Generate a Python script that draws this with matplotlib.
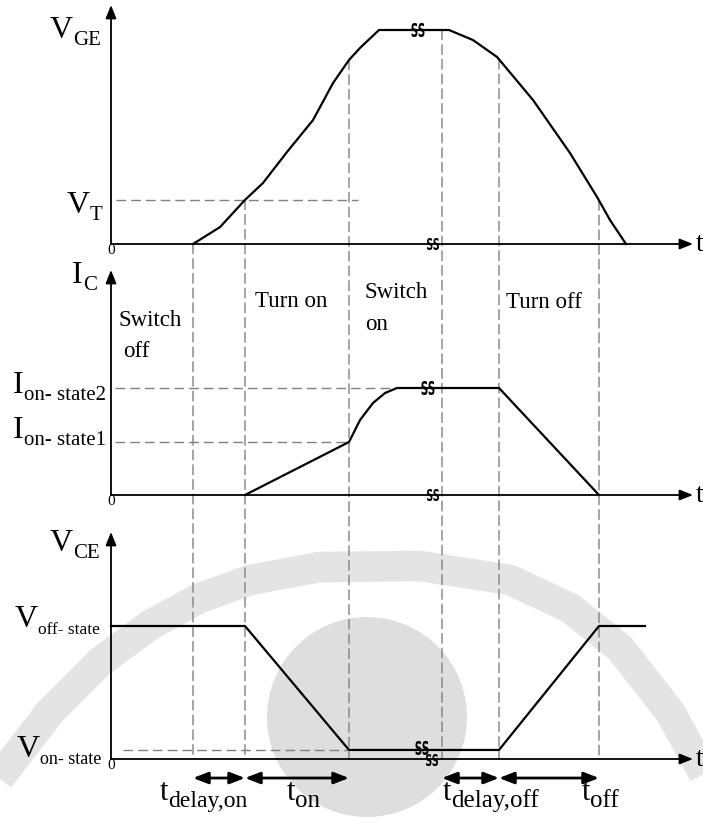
import numpy as np
import matplotlib.pyplot as plt
from matplotlib.patches import Circle, ConnectionPatch, PathPatch
from matplotlib.textpath import TextPath
from matplotlib.font_manager import FontProperties
from matplotlib.transforms import Affine2D, ScaledTranslation

plt.rcParams['font.family'] = ['Liberation Serif', 'DejaVu Serif']
plt.rcParams['lines.scale_dashes'] = False

# switching instants (arbitrary time units, 0 = vertical axis)
t_gate_rise = 8.2
t_threshold = 13.4
t_on_end = 23.8
t_gate_fall = 33.1
t_off_start = 38.8
t_off_end = 48.8

# gate-emitter voltage, normalised to the gate drive level
vge_t = [8.2, 10.9, 13.4, 15.2, 17.6, 20.2, 22.2, 23.8, 24.9, 26.8,
         33.8, 36.2, 38.6, 42.2, 45.9, 48.6, 49.9, 51.5]
vge_v = [0, 0.079, 0.206, 0.285, 0.430, 0.579, 0.752, 0.860, 0.916, 1.0,
         1.0, 0.953, 0.874, 0.673, 0.425, 0.220, 0.112, 0]
v_threshold = 0.206

# collector current, normalised to the second on-state level
ic_t = [13.4, 23.8, 24.9, 26.2, 27.4, 28.6, 38.8, 48.8]
ic_v = [0, 0.495, 0.70, 0.86, 0.953, 1.0, 1.0, 0]
i_on1 = 0.495
i_on2 = 1.0

# collector-emitter voltage, normalised to the off-state level
vce_t = [0, 13.4, 23.8, 38.8, 48.8, 53.4]
vce_v = [1.0, 1.0, 0.068, 0.068, 1.0, 1.0]
v_off = 1.0
v_on = 0.068

W, H = 703, 822
fig = plt.figure(figsize=(W / 100, H / 100), dpi=100)

# faint logo in the background
bg = fig.add_axes([0, 0, 1, 1], zorder=-1)
bg.set_xlim(0, W)
bg.set_ylim(H, 0)
bg.axis('off')
bg.add_patch(Circle((367, 717), 100, color='#dedede', lw=0))
band_x = [-10, 50, 100, 150, 200, 250, 320, 420, 510, 570, 620, 670, 713]
band_y = [790, 712, 662, 625, 598, 580, 567, 566, 580, 608, 648, 712, 790]
bg.plot(band_x, band_y, color='#e4e4e4', lw=22, solid_capstyle='butt',
        solid_joinstyle='round')


def panel(top_px, bot_px, zero_px, unit_px):
    ax = fig.add_axes([0, 1 - bot_px / H, 1, (bot_px - top_px) / H])
    ax.set_xlim(-11.1, -11.1 + W / 10)
    ax.set_ylim((zero_px - bot_px) / unit_px, (zero_px - top_px) / unit_px)
    ax.axis('off')
    return ax


ax1 = panel(0, 252, 244, 214)
ax2 = panel(252, 505, 495, 107)
ax3 = panel(505, 822, 759, 133)

DASH = (0, (7, 3.6))
GREY = '#808080'
arrow_kw = dict(arrowstyle='-|>,head_length=0.8,head_width=0.32', color='k',
                lw=1.3, shrinkA=0, shrinkB=0)


def axes_arrows(ax, y_tip):
    ax.annotate('', xy=(0, y_tip), xytext=(0, 0), arrowprops=arrow_kw,
                annotation_clip=False)
    ax.annotate('', xy=(58.2, 0), xytext=(0, 0), arrowprops=arrow_kw,
                annotation_clip=False)
    ax.text(58.5, 0, 't', fontsize=20, va='center', ha='left')
    ax.text(0, 0, '0', fontsize=11, va='top', ha='center')


def label(ax, x, y, main, sub, size=23, sub_size=15):
    t = ax.text(x, y, main, fontsize=size, va='baseline', ha='left')
    ax.annotate(sub, xy=(1, 0), xycoords=t, fontsize=sub_size,
                va='baseline', ha='left')


ss_path = TextPath((0, 0), 'SS', size=1,
                   prop=FontProperties(family='DejaVu Sans', weight='bold'))
ss_ext = ss_path.get_extents()


def break_mark(ax, x, y, w=13, h=14):
    tr = (Affine2D()
          .translate(-ss_ext.x0 - ss_ext.width / 2, -ss_ext.y0 - ss_ext.height / 2)
          .scale(w / ss_ext.width, h / ss_ext.height)
          + ScaledTranslation(x, y, ax.transData))
    ax.add_patch(PathPatch(ss_path, transform=tr, fc='k', ec='none',
                           clip_on=False, zorder=5))


# V_GE panel
axes_arrows(ax1, 1.117)
ax1.plot([0.5, 24.7], [v_threshold, v_threshold], ls=DASH, color=GREY, lw=1.0)
ax1.plot(vge_t, vge_v, color='k', lw=1.6, zorder=3, clip_on=False)
label(ax1, -6.1, 0.963, 'V', 'GE')
label(ax1, -4.4, 0.145, 'V', 'T')
break_mark(ax1, 30.7, 1.0)
break_mark(ax1, 32.2, 0, 12, 12)

# I_C panel
axes_arrows(ax2, 2.103)
ax2.plot([0.4, 28.6], [i_on2, i_on2], ls=DASH, color=GREY, lw=1.0)
ax2.plot([0.4, t_on_end], [i_on1, i_on1], ls=DASH, color=GREY, lw=1.0)
ax2.plot(ic_t, ic_v, color='k', lw=1.6, zorder=3, clip_on=False)
label(ax2, -3.9, 1.981, 'I', 'C')
label(ax2, -9.8, 0.953, 'I', 'on- state2')
label(ax2, -9.8, 0.533, 'I', 'on- state1')
text_kw = dict(fontsize=16.5, va='baseline', ha='left')
ax2.text(0.7, 1.579, 'Switch', **text_kw)
ax2.text(1.2, 1.290, 'off', **text_kw)
ax2.text(14.4, 1.757, 'Turn on', **text_kw)
ax2.text(25.4, 1.841, 'Switch', **text_kw)
ax2.text(25.4, 1.542, 'on', **text_kw)
ax2.text(39.5, 1.748, 'Turn off', **text_kw)
break_mark(ax2, 31.7, 1.0)
break_mark(ax2, 32.2, 0, 12, 12)

# V_CE panel
axes_arrows(ax3, 1.707)
ax3.plot([1.2, t_on_end], [v_on, v_on], ls=DASH, color=GREY, lw=1.0)
ax3.plot(vce_t, vce_v, color='k', lw=1.6, zorder=3, clip_on=False)
label(ax3, -6.1, 1.564, 'V', 'CE')
label(ax3, -9.6, 0.992, 'V', 'off- state', 23, 12.5)
label(ax3, -9.4, 0.015, 'V', 'on- state', 23, 13)
break_mark(ax3, 31.1, 0.083)
break_mark(ax3, 32.1, -0.008, 12, 12)

# interval arrows and their names
y_arr = -0.143
spans = [(t_gate_rise, t_threshold), (t_threshold, t_on_end),
         (t_gate_fall, t_off_start), (t_off_start, t_off_end)]
for a, b in spans:
    ax3.annotate('', xy=(b, y_arr), xytext=(a, y_arr), annotation_clip=False,
                 arrowprops=dict(arrowstyle='<|-|>,head_length=0.9,head_width=0.35',
                                 lw=2, color='k', shrinkA=0, shrinkB=0))
y_lab = -0.308
label(ax3, 4.9, y_lab, 't', 'delay,on', 22, 17)
label(ax3, 17.6, y_lab, 't', 'on', 22, 18)
label(ax3, 33.2, y_lab, 't', 'delay,off', 22, 18)
label(ax3, 47.1, y_lab, 't', 'off', 22, 18)

# dashed markers of the switching instants, from the gate curve down to V_CE axis
for t in [t_gate_rise, t_threshold, t_on_end, t_gate_fall, t_off_start, t_off_end]:
    v_start = np.interp(t, vge_t, vge_v)
    con = ConnectionPatch(xyA=(t, v_start), coordsA='data', axesA=ax1,
                          xyB=(t, 0), coordsB='data', axesB=ax3,
                          color=GREY, lw=1.0, ls=DASH, zorder=-0.5)
    fig.add_artist(con)

fig.savefig('out.png', dpi=100)
